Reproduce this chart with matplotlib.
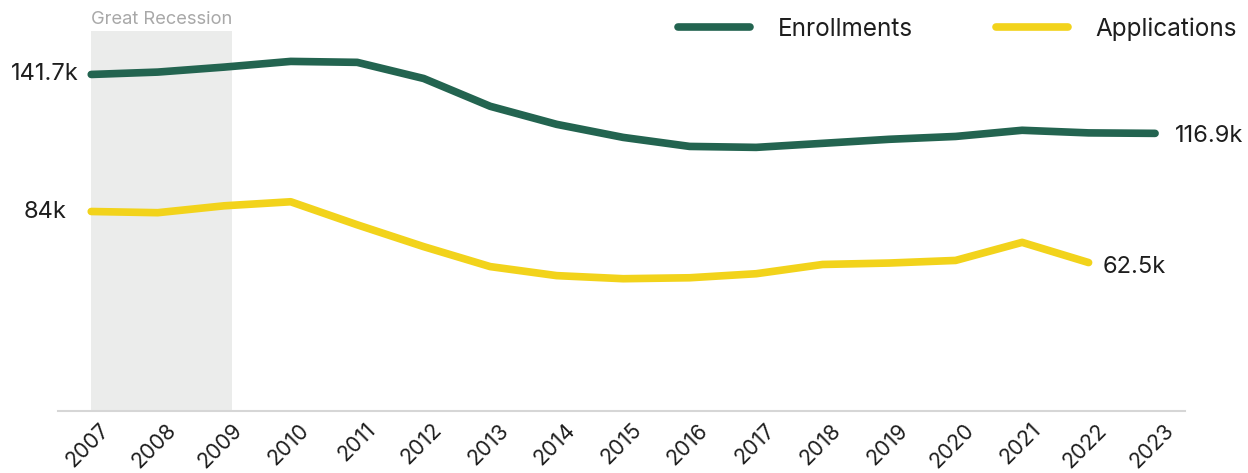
import matplotlib
matplotlib.use("Agg")
import matplotlib.pyplot as plt

plt.rcParams['font.family'] = ['Inter', 'DejaVu Sans']

years = list(range(2007, 2024))
enrollments = [141.7, 142.7, 144.8, 147.2, 146.8, 140.0, 128.3, 120.7, 115.2,
               111.4, 111.0, 112.7, 114.4, 115.6, 118.2, 117.1, 116.9]
app_years = list(range(2007, 2023))
applications = [84.0, 83.5, 86.4, 88.1, 78.4, 69.2, 60.8, 57.0, 55.7,
                56.1, 57.8, 61.7, 62.3, 63.4, 71.0, 62.5]
recession = (2007, 2009.12)

green = '#236450'
yellow = '#f2d31b'
text_col = '#1e1e1e'

px = 1/100
fig = plt.figure(figsize=(1248*px, 473*px), dpi=100)
ax = fig.add_axes([58/1248, 62/473, (1185-58)/1248, (411-31)/473])

ax.axvspan(recession[0], recession[1], color='#ebeceb', lw=0, zorder=0)
ax.text(recession[0], 161.3, 'Great Recession', color='#a8a8a8', fontsize=13.2,
        ha='left', va='bottom', clip_on=False)

l1, = ax.plot(years, enrollments, color=green, lw=5.5, solid_capstyle='round',
              solid_joinstyle='round', label='Enrollments', zorder=3)
l2, = ax.plot(app_years, applications, color=yellow, lw=5.5, solid_capstyle='round',
              solid_joinstyle='round', label='Applications', zorder=3)

# start / end value labels
for x, y, s in [(years[0], enrollments[0], '141.7k'), (app_years[0], applications[0], '84k')]:
    ax.annotate(s, (x, y), xytext=(-33.5, 0), textcoords='offset points',
                ha='center', va='center', fontsize=17, color=text_col)
ax.annotate('116.9k', (years[-1], enrollments[-1]), xytext=(14.4, -2), textcoords='offset points',
            ha='left', va='center', fontsize=17, color=text_col)
ax.annotate('62.5k', (app_years[-1], applications[-1]), xytext=(10.4, -3.4), textcoords='offset points',
            ha='left', va='center', fontsize=17, color=text_col)

ax.set_xlim(2006.5, 2023.45)
ax.set_ylim(0, 160)
ax.set_yticks([])
ax.set_xticks(years)
ax.set_xticklabels([])
ax.tick_params(axis='x', length=0)

# rotated year labels hanging from the axis line
for y in years:
    ax.annotate(str(y), (y, 0), xytext=(5.8, -6.4), textcoords='offset points',
                rotation=45, rotation_mode='anchor', ha='right', va='top',
                fontsize=15.5, color=text_col, annotation_clip=False)

for side in ['top', 'right', 'left']:
    ax.spines[side].set_visible(False)
ax.spines['bottom'].set_color('#d6d6d6')
ax.spines['bottom'].set_linewidth(1.5)

fig.legend(handles=[l1, l2], loc='center right', bbox_to_anchor=(1237/1248, 1 - 29/473),
           ncol=2, frameon=False, fontsize=17.5, handlelength=2.96, handletextpad=1.15,
           columnspacing=3.4, borderpad=0, borderaxespad=0, labelcolor=text_col)

fig.savefig('out.png', dpi=100)
